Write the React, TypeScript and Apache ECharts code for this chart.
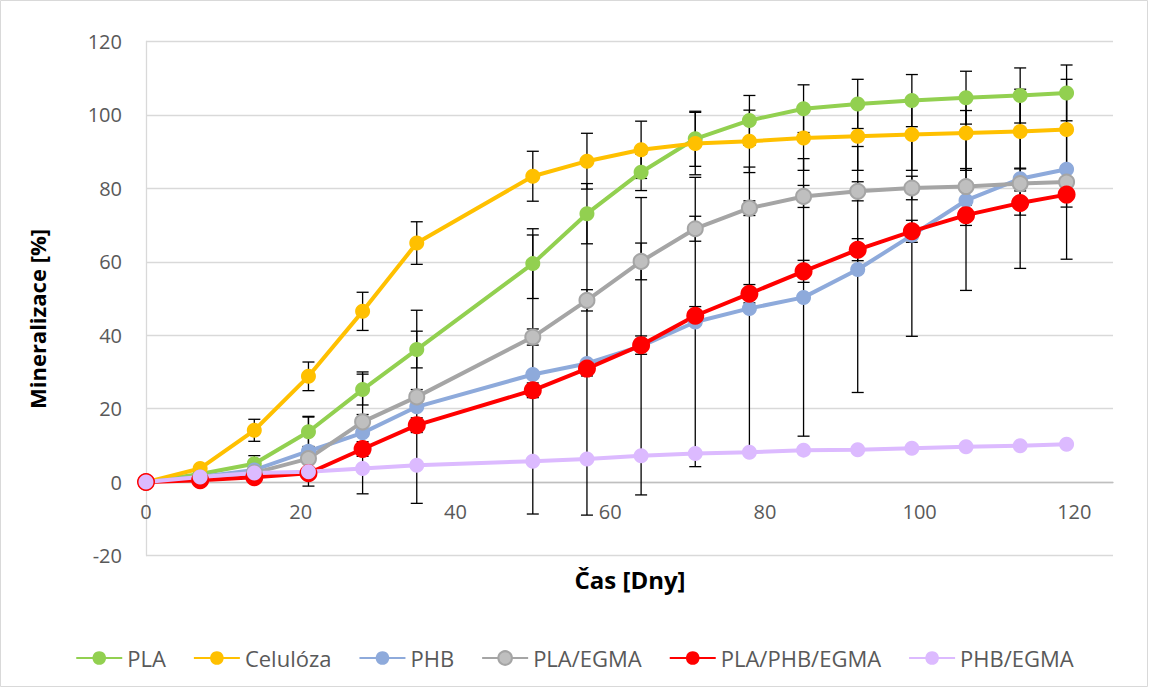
import React, { useEffect, useRef } from "react";
import * as echarts from "echarts";

const days = [0, 7, 14, 21, 28, 35, 50, 57, 64, 71, 78, 85, 92, 99, 106, 113, 119];

const seriesNames = ["PLA", "Celulóza", "PHB", "PLA/EGMA", "PLA/PHB/EGMA", "PHB/EGMA"];

const pla = [0, 2.2, 5.0, 13.7, 25.2, 36.1, 59.5, 73.1, 84.4, 93.5, 98.5, 101.7, 103.0, 103.9, 104.7, 105.3, 106.0];
const plaErr = [0, 0.8, 2.2, 4.0, 4.2, 5.0, 9.5, 8.2, 5.0, 7.5, 6.8, 6.5, 6.7, 7.1, 7.2, 7.5, 7.6];

const celuloza = [0, 3.7, 14.1, 28.8, 46.5, 65.1, 83.3, 87.4, 90.5, 92.2, 92.8, 93.7, 94.2, 94.7, 95.1, 95.5, 96.0];
const celulozaErr = [0, 0.8, 3.0, 3.9, 5.2, 5.8, 6.8, 7.6, 7.8, 8.5, 8.5, 8.8, 9.3, 9.8, 10.2, 10.0, 10.0];

const phb = [0, 1.4, 3.3, 8.4, 13.4, 20.5, 29.3, 32.3, 37.0, 43.6, 47.3, 50.3, 57.9, 67.2, 76.7, 82.6, 85.2];
const phbErr = [0, 0.5, 1.0, 9.5, 16.6, 26.3, 38.0, 41.3, 40.5, 39.4, 38.5, 37.8, 33.5, 27.5, 24.5, 24.4, 24.5];

const plaEgma = [0, 1.0, 2.5, 6.4, 16.4, 23.2, 39.5, 49.5, 60.1, 69.0, 74.6, 77.8, 79.2, 80.1, 80.5, 81.3, 81.7];
const plaEgmaErr = [0, 0.5, 0.8, 1.0, 2.0, 2.0, 2.2, 2.9, 5.0, 3.4, 2.0, 3.0, 2.6, 3.2, 4.9, 4.0, 4.0];

const plaPhbEgma = [0, 0.5, 1.3, 2.4, 9.0, 15.5, 25.0, 30.9, 37.3, 45.3, 51.3, 57.4, 63.3, 68.3, 72.7, 76.0, 78.3];
const plaPhbEgmaErr = [0, 0.3, 0.5, 1.0, 2.0, 2.0, 2.0, 2.0, 2.5, 2.5, 2.5, 3.0, 3.0, 3.0, 2.8, 3.3, 3.4];

const phbEgma = [0, 1.4, 2.5, 2.8, 3.7, 4.6, 5.7, 6.3, 7.2, 7.8, 8.1, 8.7, 8.8, 9.2, 9.6, 9.9, 10.3];
const phbEgmaErr = [0, 0, 0, 0, 0, 0, 0, 0, 0, 0, 0, 0, 0, 0, 0, 0, 0];

const yTicks = [-20, 0, 20, 40, 60, 80, 100, 120];

const values = [pla, celuloza, phb, plaEgma, plaPhbEgma, phbEgma];
const errors = [plaErr, celulozaErr, phbErr, plaEgmaErr, plaPhbEgmaErr, phbEgmaErr];

const lineColors = ["#92d050", "#ffc000", "#8eaadb", "#a5a5a5", "#ff0000", "#dcbaff"];
const fillColors = ["#92d050", "#ffc000", "#8eaadb", "#bfbfbf", "#ff0000", "#dcbaff"];
const symbolSizes = [15, 15, 15, 15, 18, 15];

const FONT = "'Open Sans', 'Noto Sans', sans-serif";

export default function App() {
  const ref = useRef<HTMLDivElement>(null);

  useEffect(() => {
    if (!ref.current) return;
    const chart = echarts.init(ref.current, undefined, { renderer: "svg" });

    const errData: number[][] = [];
    values.forEach((vals, si) => {
      vals.forEach((v, i) => {
        const e = errors[si][i];
        if (e > 0) errData.push([days[i], v - e, v + e]);
      });
    });

    const lineSeries = seriesNames.map((name, si) => ({
      name,
      type: "line",
      data: days.map((d, i) => [d, values[si][i]]),
      symbol: "circle",
      symbolSize: symbolSizes[si],
      showSymbol: true,
      z: 3,
      lineStyle: { color: lineColors[si], width: 4 },
      itemStyle: {
        color: fillColors[si],
        borderColor: lineColors[si],
        borderWidth: si === 3 ? 2 : 0,
      },
      emphasis: { disabled: true },
    }));

    const errorSeries = {
      name: "err",
      type: "custom",
      z: 1,
      data: errData,
      encode: { x: 0, y: [1, 2] },
      renderItem: (params: any, api: any) => {
        const x = api.value(0);
        const lo = api.coord([x, api.value(1)]);
        const hi = api.coord([x, api.value(2)]);
        const hw = 6;
        const style = { stroke: "#000", lineWidth: 1.3 };
        return {
          type: "group",
          children: [
            { type: "line", shape: { x1: hi[0], y1: hi[1], x2: lo[0], y2: lo[1] }, style },
            { type: "line", shape: { x1: hi[0] - hw, y1: hi[1], x2: hi[0] + hw, y2: hi[1] }, style },
            { type: "line", shape: { x1: lo[0] - hw, y1: lo[1], x2: lo[0] + hw, y2: lo[1] }, style },
          ],
        };
      },
    };

    // plot area 146..1113 horizontally, 41.5..555.5 vertically; y=0 lies 73.4px above bottom
    const zeroOffset = -(555.5 - 41.5) * (20 / 140);

    chart.setOption({
      animation: false,
      backgroundColor: "#ffffff",
      grid: { left: 146, right: 36, top: 41.5, bottom: 132.5, containLabel: false },
      legend: {
        data: seriesNames,
        top: 642,
        left: "center",
        itemWidth: 46,
        itemHeight: 17,
        itemGap: 27,
        textStyle: { fontFamily: FONT, fontSize: 22, color: "#595959" },
      },
      xAxis: {
        type: "value",
        min: 0,
        max: 125,
        interval: 20,
        position: "bottom",
        offset: zeroOffset,
        axisLine: { show: true, onZero: false, lineStyle: { color: "#bfbfbf", width: 1.3 } },
        axisTick: { show: false },
        splitLine: { show: false },
        axisLabel: {
          showMaxLabel: false,
          margin: 19,
          fontFamily: FONT,
          fontSize: 20,
          color: "#595959",
        },
      },
      yAxis: {
        type: "value",
        min: yTicks[0],
        max: yTicks[yTicks.length - 1],
        interval: 20,
        axisLine: { show: true, lineStyle: { color: "#d9d9d9", width: 1.3 } },
        axisTick: { show: false },
        splitLine: { show: true, lineStyle: { color: "#d9d9d9", width: 1.3 } },
        axisLabel: { margin: 24, fontFamily: FONT, fontSize: 20, color: "#595959" },
      },
      graphic: [
        {
          type: "rect",
          shape: { x: 0.5, y: 0.5, width: 1147, height: 686 },
          style: { fill: "none", stroke: "#d9d9d9", lineWidth: 1 },
          silent: true,
        },
        {
          type: "text",
          x: 37,
          y: 319,
          rotation: Math.PI / 2,
          style: {
            text: "Mineralizace [%]",
            font: `bold 22px ${FONT}`,
            fill: "#000",
            textAlign: "center",
            textVerticalAlign: "middle",
          },
        },
        {
          type: "text",
          x: 630,
          y: 579,
          style: {
            text: "Čas [Dny]",
            font: `bold 24px ${FONT}`,
            fill: "#000",
            textAlign: "center",
            textVerticalAlign: "middle",
          },
        },
      ],
      series: [errorSeries, ...lineSeries],
    });

    return () => chart.dispose();
  }, []);

  return (
    <div
      ref={ref}
      style={{ position: "fixed", left: 0, top: 0, width: 1149, height: 688, background: "#fff" }}
    />
  );
}
